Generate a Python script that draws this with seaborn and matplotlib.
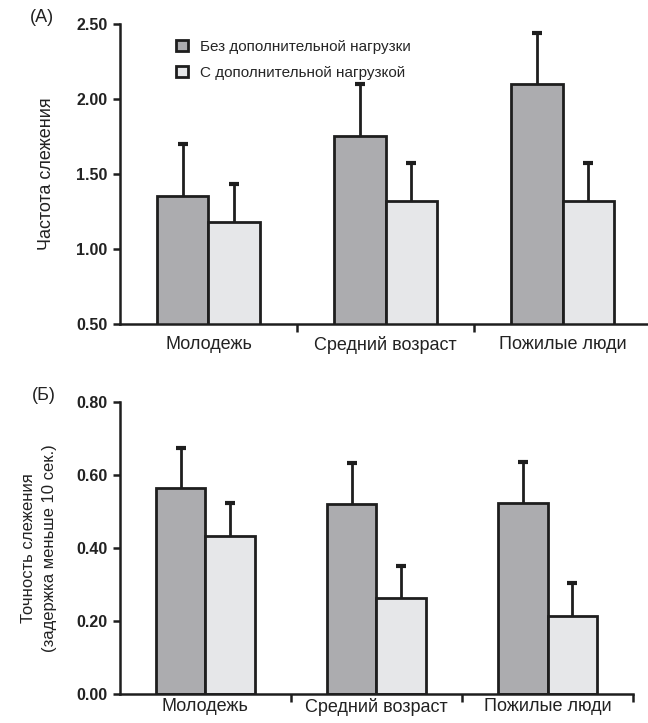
import matplotlib
matplotlib.use('Agg')
import matplotlib.pyplot as plt
import seaborn as sns
import pandas as pd

# --- data ---
groups = ['Молодежь', 'Средний возраст', 'Пожилые люди']
conditions = ['Без дополнительной нагрузки', 'С дополнительной нагрузкой']

freq_no_load = [1.35, 1.75, 2.10]
freq_no_load_err = [0.35, 0.35, 0.34]
freq_load = [1.18, 1.32, 1.32]
freq_load_err = [0.25, 0.25, 0.25]

acc_no_load = [0.565, 0.52, 0.523]
acc_no_load_err = [0.11, 0.113, 0.113]
acc_load = [0.432, 0.263, 0.215]
acc_load_err = [0.09, 0.088, 0.09]

dark = '#abacaf'
light = '#e6e7e9'
edge = '#1e1e1e'
txt = '#222222'

sns.set_theme(style='ticks')
plt.rcParams['font.family'] = ['Liberation Sans', 'DejaVu Sans']


def make_df(v1, v2):
    return pd.DataFrame({
        'group': groups * 2,
        'cond': [conditions[0]] * 3 + [conditions[1]] * 3,
        'value': v1 + v2,
    })


def draw_panel(ax, v1, e1, v2, e2, ylim, yticks, ylabel, xpad, ylabelsize, ylabelpad):
    df = make_df(v1, v2)
    sns.barplot(data=df, x='group', y='value', hue='cond', hue_order=conditions,
                palette=[dark, light], edgecolor=edge, linewidth=2.0,
                width=0.58, errorbar=None, ax=ax, legend=True)
    # one-sided error bars on top of each bar
    for cont, errs in zip(ax.containers, [e1, e2]):
        for bar, err in zip(cont, errs):
            x = bar.get_x() + bar.get_width() / 2
            y = bar.get_height()
            eb = ax.errorbar(x, y, yerr=[[0], [err]], fmt='none', ecolor=edge,
                             elinewidth=2.0, capsize=3.5, capthick=3, zorder=1)
            eb[1][0].set_visible(False)  # drop the lower cap
    ax.set_ylim(*ylim)
    ax.set_xlim(-0.5, 2.5)
    ax.set_yticks(yticks)
    ax.set_yticklabels([f'{t:.2f}' for t in yticks], fontweight='bold', fontsize=11.5, color=txt)
    ax.set_xlabel('')
    ax.set_ylabel(ylabel, fontsize=ylabelsize, labelpad=ylabelpad, color=txt, linespacing=1.45)
    ax.tick_params(axis='x', which='major', length=0, labelsize=13, pad=xpad, labelcolor=txt)
    ax.set_xticks([0.5, 1.5, 2.5], minor=True)
    ax.tick_params(axis='x', which='minor', length=6, width=1.8, color=edge, direction='out')
    ax.tick_params(axis='y', length=5, width=1.8, color=edge, direction='out', pad=4)
    sns.despine(ax=ax)
    for s in ['left', 'bottom']:
        ax.spines[s].set_linewidth(1.8)
        ax.spines[s].set_color(edge)


fig = plt.figure(figsize=(6.48, 7.23), dpi=100)
ax1 = fig.add_axes([0.185, 0.552, 0.82, 0.415])
ax2 = fig.add_axes([0.185, 0.040, 0.792, 0.404])

draw_panel(ax1, freq_no_load, freq_no_load_err, freq_load, freq_load_err,
           (0.5, 2.5), [0.5, 1.0, 1.5, 2.0, 2.5], 'Частота слежения', 9, 13, 15)
draw_panel(ax2, acc_no_load, acc_no_load_err, acc_load, acc_load_err,
           (0.0, 0.8), [0.0, 0.2, 0.4, 0.6, 0.8],
           'Точность слежения\n(задержка меньше 10 сек.)', 3, 12, 14)

fig.text(30 / 648, 1 - 9 / 723, '(A)', fontsize=13, color=txt, va='top', ha='left')
fig.text(32 / 648, 1 - 387 / 723, '(Б)', fontsize=13, color=txt, va='top', ha='left')

ax1.legend(loc='upper left', bbox_to_anchor=(0.08, 0.992), frameon=False,
           fontsize=11, handlelength=0.75, handleheight=0.75, labelspacing=0.8,
           handletextpad=0.8, title=None)
for h in ax1.get_legend().legend_handles:
    h.set_edgecolor(edge)
    h.set_linewidth(2.0)
ax2.get_legend().remove()

fig.savefig('out.png', dpi=100)
